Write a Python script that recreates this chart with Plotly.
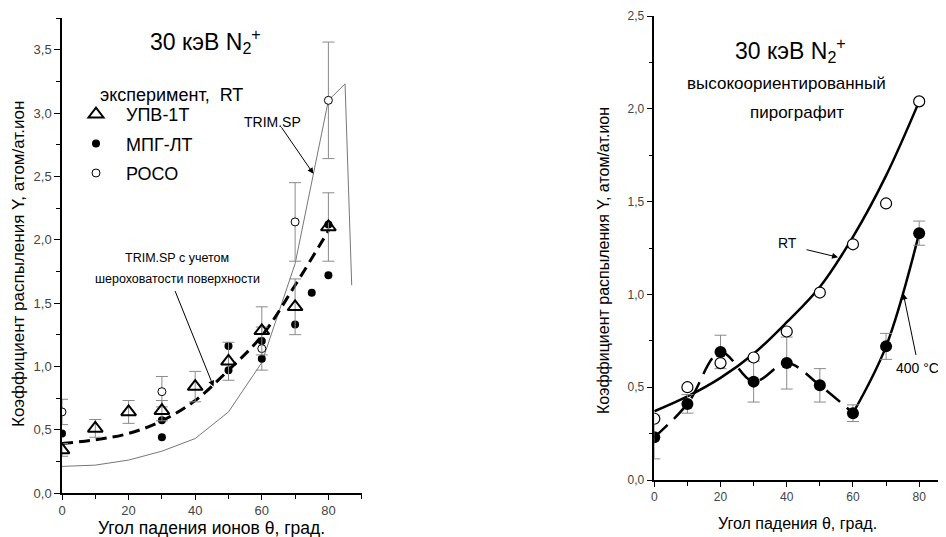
import plotly.graph_objects as go

# The page places the figure 8 px from the window's top-left corner,
# so the figure is sized to fill the rest of the 946x537 window.
OFF = 8
W, H = 946 - OFF, 537 - OFF
FONT = "Liberation Sans, Arial, sans-serif"

# ---------------- Left panel data ----------------
angles_upv = [0, 10, 20, 30, 40, 50, 60, 70, 80]
yield_upv = [0.34, 0.51, 0.64, 0.65, 0.84, 1.04, 1.28, 1.47, 2.10]
err_upv = [0.05, 0.07, 0.09, 0.08, 0.12, 0.15, 0.19, 0.22, 0.27]

angles_mpg = [0, 30, 30, 50, 50, 60, 60, 70, 75, 80, 80]
yield_mpg = [0.47, 0.575, 0.44, 1.16, 0.97, 1.20, 1.06, 1.33, 1.58, 1.72, 2.12]

angles_poco = [0, 30, 60, 70, 80]
yield_poco = [0.64, 0.80, 1.14, 2.14, 3.10]
err_poco = [0.10, 0.12, 0.17, 0.31, 0.46]

angles_trim = [0, 10, 20, 30, 40, 50, 60, 70, 80, 85, 87]
yield_trim = [0.21, 0.22, 0.26, 0.33, 0.43, 0.64, 1.03, 1.81, 3.10, 3.23, 1.64]

angles_rough = [0, 10, 20, 30, 40, 50, 60, 70, 80]
yield_rough = [0.39, 0.42, 0.47, 0.57, 0.73, 0.97, 1.24, 1.64, 2.07]

# ---------------- Right panel data ----------------
angles_hopg = [0, 10, 20, 30, 40, 50, 60, 70, 80]
yield_rt = [0.33, 0.50, 0.63, 0.66, 0.80, 1.01, 1.27, 1.49, 2.04]
fit_rt = [0.37, 0.45, 0.55, 0.68, 0.85, 1.04, 1.31, 1.64, 2.04]
yield_400 = [0.23, 0.41, 0.69, 0.53, 0.63, 0.51, 0.36, 0.72, 1.33]
err_400 = [0.116, 0.05, 0.09, 0.11, 0.14, 0.09, 0.045, 0.07, 0.065]

xticks_left = [0, 20, 40, 60, 80]
yticks_left = [0.0, 0.5, 1.0, 1.5, 2.0, 2.5, 3.0, 3.5]
yticks_right = [0.0, 0.5, 1.0, 1.5, 2.0, 2.5]


def px(x):
    return (x - OFF) / W


def py(y):
    return 1 - (y - OFF) / H


GREY = "#8a8a8a"
fig = go.Figure()

# Left: TRIM.SP thin line
fig.add_trace(go.Scatter(x=angles_trim, y=yield_trim, mode="lines",
                         line=dict(color="#777777", width=1), showlegend=False,
                         xaxis="x", yaxis="y"))
# Left: dashed roughness line
fig.add_trace(go.Scatter(x=angles_rough, y=yield_rough, mode="lines",
                         line=dict(color="black", width=3, dash="11px,6px", shape="spline"),
                         showlegend=False, xaxis="x", yaxis="y"))
# Left: РОСО open circles
fig.add_trace(go.Scatter(x=angles_poco, y=yield_poco, mode="markers",
                         name="\u00a0\u00a0РОСО",
                         marker=dict(symbol="circle", size=8, color="white",
                                     line=dict(color="black", width=1)),
                         error_y=dict(type="data", array=err_poco, color=GREY,
                                      thickness=1, width=6),
                         legendrank=3, legendgroup="c", xaxis="x", yaxis="y"))
# Left: МПГ-ЛТ filled circles
fig.add_trace(go.Scatter(x=angles_mpg, y=yield_mpg, mode="markers",
                         name="\u00a0\u00a0МПГ-ЛТ",
                         marker=dict(symbol="circle", size=8, color="black"),
                         legendrank=2, legendgroup="b", xaxis="x", yaxis="y"))
# Left: УПВ-1Т open triangles
fig.add_trace(go.Scatter(x=angles_upv, y=yield_upv, mode="markers",
                         name="\u00a0\u00a0УПВ-1Т",
                         marker=dict(symbol="triangle-up-open", size=13, color="black",
                                     line=dict(width=2)),
                         error_y=dict(type="data", array=err_upv, color=GREY,
                                      thickness=1, width=6),
                         legendrank=1, legendgroup="a", xaxis="x", yaxis="y"))

# Right: RT fit line
fig.add_trace(go.Scatter(x=angles_hopg, y=fit_rt, mode="lines",
                         line=dict(color="black", width=2.5, shape="spline"),
                         showlegend=False, xaxis="x2", yaxis="y2"))
# Right: 400 C dashed curve (0-60) and solid (60-80)
fig.add_trace(go.Scatter(x=angles_hopg[:7], y=yield_400[:7], mode="lines",
                         line=dict(color="black", width=2.5, shape="spline",
                                   dash="18px,9px"),
                         showlegend=False, xaxis="x2", yaxis="y2"))
fig.add_trace(go.Scatter(x=angles_hopg[6:], y=yield_400[6:], mode="lines",
                         line=dict(color="black", width=2.5, shape="spline"),
                         showlegend=False, xaxis="x2", yaxis="y2"))
fig.add_trace(go.Scatter(x=angles_hopg, y=yield_400, mode="markers",
                         marker=dict(symbol="circle", size=12, color="black"),
                         error_y=dict(type="data", array=err_400, color=GREY,
                                      thickness=1, width=6),
                         showlegend=False, xaxis="x2", yaxis="y2"))
fig.add_trace(go.Scatter(x=angles_hopg, y=yield_rt, mode="markers",
                         marker=dict(symbol="circle", size=11, color="white",
                                     line=dict(color="black", width=1.2)),
                         showlegend=False, xaxis="x2", yaxis="y2"))

ax_common = dict(showgrid=False, zeroline=False, showline=True, linecolor="black",
                 linewidth=1.5, tickcolor="black", automargin=False,
                 tickfont=dict(family=FONT, size=13, color="#444"))
small_tf = dict(family=FONT, size=12, color="#444")

LX = [px(62), px(361.7)]
LY = [py(493), py(18)]
RX = [px(654.3), 1.0]
RY = [py(480), py(16)]

fig.update_layout(
    width=W, height=H,
    margin=dict(l=0, r=0, t=0, b=0, autoexpand=False),
    paper_bgcolor="white", plot_bgcolor="white",
    separators=", ",
    font=dict(family=FONT, color="black"),
    xaxis=dict(domain=LX, range=[0, 90], anchor="y", tickvals=xticks_left,
               ticks="outside", ticklen=5,
               minor=dict(dtick=10, tick0=0, ticks="outside", ticklen=4, tickcolor="black"),
               **ax_common),
    yaxis=dict(domain=LY, range=[0, 3.75], anchor="x", tickvals=yticks_left,
               tickformat=".1f", ticks="outside", ticklen=6,
               minor=dict(dtick=0.25, tick0=0, ticks="outside", ticklen=4, tickcolor="black"),
               **ax_common),
    xaxis3=dict(overlaying="x", side="top", anchor="y", range=[0, 90], dtick=10, tick0=0,
                ticks="inside", ticklen=6, showticklabels=False, **ax_common),
    yaxis3=dict(overlaying="y", side="right", anchor="x", range=[0, 3.75], dtick=0.25,
                tick0=0, ticks="inside", ticklen=6, showticklabels=False, **ax_common),
    xaxis2=dict(domain=RX, range=[0, 88.1], anchor="y2", tickvals=xticks_left,
                ticks="outside", ticklen=5,
                minor=dict(dtick=10, tick0=0, ticks="outside", ticklen=4, tickcolor="black"),
                **{**ax_common, "tickfont": small_tf}),
    yaxis2=dict(domain=RY, range=[0, 2.5], anchor="x2", tickvals=yticks_right,
                tickformat=".1f", ticks="outside", ticklen=6,
                minor=dict(dtick=0.25, tick0=0, ticks="outside", ticklen=4, tickcolor="black"),
                **{**ax_common, "tickfont": small_tf}),
    xaxis4=dict(overlaying="x2", side="top", anchor="y2", range=[0, 88.1], dtick=10, tick0=0,
                ticks="inside", ticklen=6, showticklabels=False, **ax_common),
    yaxis4=dict(overlaying="y2", side="right", anchor="x2", range=[0, 2.5], dtick=0.5,
                tick0=0, ticks="inside", ticklen=6, showticklabels=False,
                **{**ax_common, "showline": False}),
    legend=dict(x=px(76), y=py(96), xanchor="left", yanchor="top",
                bgcolor="rgba(0,0,0,0)", font=dict(family=FONT, size=18, color="black"),
                traceorder="grouped", tracegroupgap=3, itemclick=False),
)

ann = []


def text(x, y, s, size, anchor="center", **kw):
    ann.append(dict(x=px(x), y=py(y), xref="paper", yref="paper", text=s, showarrow=False,
                    font=dict(family=FONT, size=size, color="black"), xanchor=anchor,
                    yanchor="middle", borderpad=0, **kw))


# Left panel texts
text(205, 41, "30 кэВ N<sub>2</sub><sup>+</sup>", 23)
text(171, 95, "эксперимент,  RT", 18)
text(272, 122, "TRIM.SP", 14)
text(177, 258, "TRIM.SP с учетом", 12.5)
text(177, 279, "шероховатости поверхности", 12.5)
text(19, 264, "Коэффициент распыления Y, атом/ат.ион", 17, textangle=-90)
text(211, 527.5, "Угол падения ионов θ, град.", 17.5)

# Right panel texts
text(790, 50, "30 кэВ N<sub>2</sub><sup>+</sup>", 23)
text(786, 83, "высокоориентированный", 17)
text(797, 112, "пирографит", 17)
text(787, 243, "RT", 14)
text(940, 368, "400 °C", 14, anchor="right")
text(603, 261, "Коэффициент распыления Y, атом/ат.ион", 16, textangle=-90)
text(797, 523, "Угол падения θ, град.", 16)


def arrow(xref, yref, x, y, ax, ay):
    ann.append(dict(x=x, y=y, xref=xref, yref=yref, ax=ax, ay=ay, showarrow=True,
                    arrowhead=2, arrowsize=1.2, arrowwidth=1, arrowcolor="black", text=""))


arrow("x", "y", 75.5, 2.52, -33, -48)
arrow("x", "y", 45.5, 0.84, -39, -97)
arrow("x2", "y2", 55.5, 1.20, -33, -8)
arrow("x2", "y2", 75.2, 1.005, 13, 63)

fig.update_layout(annotations=ann)
fig.write_html("out.html")
